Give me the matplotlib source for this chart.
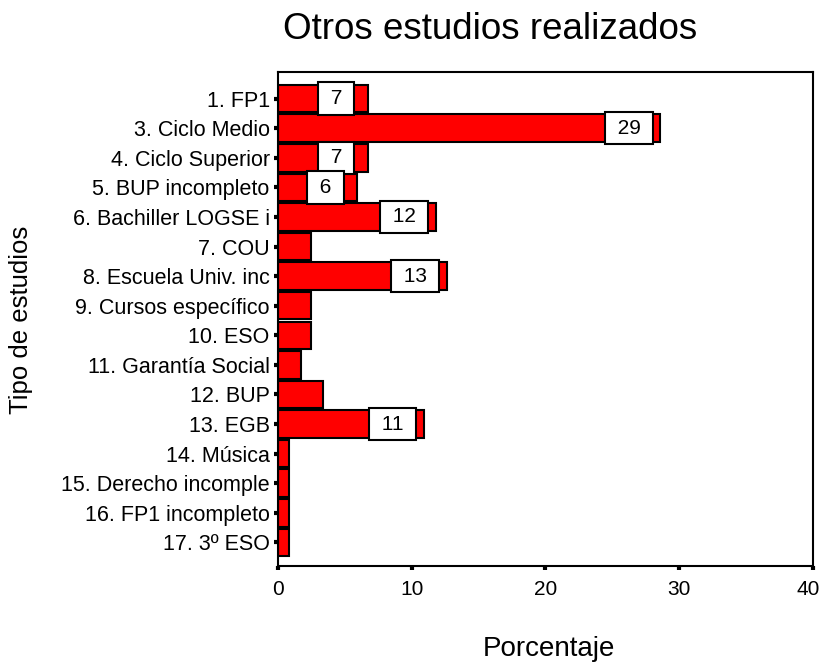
import matplotlib
matplotlib.use('Agg')
import matplotlib.pyplot as plt
import matplotlib.transforms as mtransforms
import numpy as np

plt.rcParams['font.family'] = ['Liberation Sans', 'DejaVu Sans']

categorias = ['1. FP1', '3. Ciclo Medio', '4. Ciclo Superior', '5. BUP incompleto',
              '6. Bachiller LOGSE i', '7. COU', '8. Escuela Univ. inc',
              '9. Cursos específico', '10. ESO', '11. Garantía Social', '12. BUP',
              '13. EGB', '14. Música', '15. Derecho incomple', '16. FP1 incompleto',
              '17. 3º ESO']
porcentaje = [6.7, 28.6, 6.7, 5.9, 11.8, 2.5, 12.6, 2.5, 2.5, 1.7, 3.4, 10.9,
              0.8, 0.8, 0.8, 0.8]
etiquetas = ['7', '29', '7', '6', '12', '', '13', '', '', '', '', '11',
             '', '', '', '']

fig = plt.figure(figsize=(8.22, 6.63), dpi=100)
ax = fig.add_axes([0.3382, 0.1463, 0.6508, 0.7451])

y = np.arange(len(categorias))
ax.barh(y, porcentaje, height=0.93, color='#ff0000', edgecolor='black', linewidth=1.5)

for yi, v, t in zip(y, porcentaje, etiquetas):
    if t:
        ax.text(v - 2.35, yi, ' ' + t + ' ', ha='center', va='center', fontsize=15,
                bbox=dict(boxstyle='square,pad=0.32', facecolor='white',
                          edgecolor='black', linewidth=1.5))

ax.set_xlim(0, 40)
ax.set_ylim(15.8, -0.9)
ax.set_xticks([0, 10, 20, 30, 40])
ax.set_yticks(y)
ax.set_yticklabels(categorias, fontsize=15.5)
ax.tick_params(axis='x', labelsize=15, length=3, width=3, pad=7)
ax.tick_params(axis='y', length=3, width=3, pad=3)
for s in ax.spines.values():
    s.set_linewidth(1.5)

# ultima etiqueta del eje x un poco a la izquierda para que quepa
ult = ax.get_xticklabels()[-1]
ult.set_transform(ult.get_transform() + mtransforms.ScaledTranslation(-4.5 / 100, 0, fig.dpi_scale_trans))

fig.text(490 / 822, 1 - 39 / 663, 'Otros estudios realizados',
         fontsize=26.5, ha='center', va='baseline')

ax.set_xlabel('Porcentaje', fontsize=20)
ax.xaxis.set_label_coords(549 / 822, (663 - 636) / 663, transform=fig.transFigure)
ax.set_ylabel('Tipo de estudios', fontsize=18.5)
ax.yaxis.set_label_coords(33 / 822, 1 - 320 / 663, transform=fig.transFigure)

fig.savefig('out.png', dpi=100)
